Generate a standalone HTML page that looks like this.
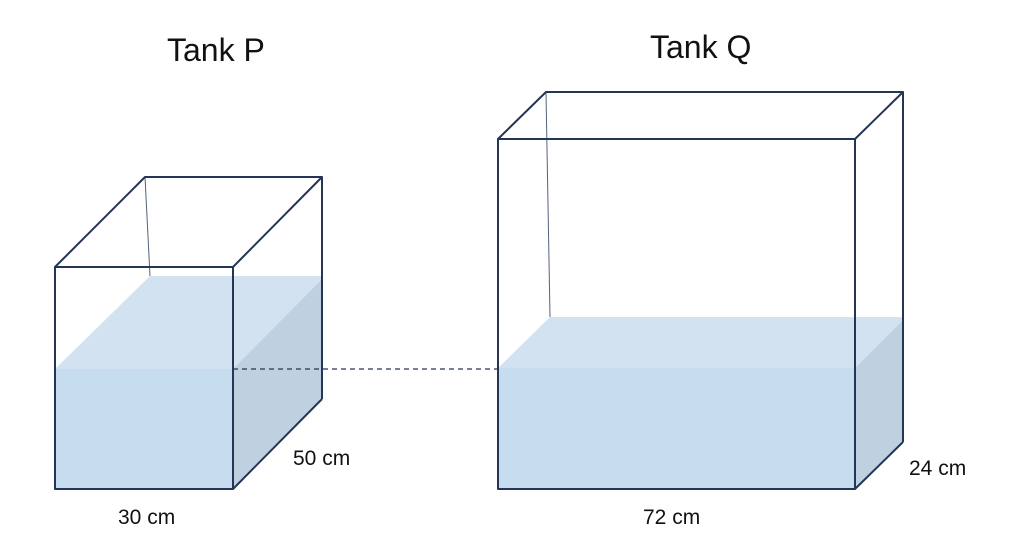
<!DOCTYPE html>
<html><head><meta charset="utf-8"><style>
html,body{margin:0;padding:0;background:#fff;}
svg{display:block;}
text{font-family:"Liberation Sans",Arial,sans-serif;fill:#111;}
</style></head><body>
<svg width="1024" height="546" viewBox="0 0 1024 546" xmlns="http://www.w3.org/2000/svg">
<rect width="1024" height="546" fill="#fff"/>
<!-- Tank P water -->
<polygon points="55,369 150,276 322,276 322,279 233,369" fill="#d2e2f1"/>
<polygon points="232,370 322,279 322,399 233,489" fill="#bfd1e0"/>
<rect x="55" y="369" width="178" height="120" fill="#c6dcef"/>
<!-- Tank P edges -->
<g fill="none" stroke="#243556" stroke-width="2" stroke-linejoin="round">
<line x1="145" y1="177" x2="150" y2="276" stroke-width="1" stroke="#55627c"/>
<polygon points="55,267 145,177 322,177 233,267"/>
<line x1="322" y1="177" x2="322" y2="399"/>
<line x1="322" y1="399" x2="233" y2="489"/>
<rect x="55" y="267" width="178" height="222"/>
</g>
<!-- dashed -->
<line x1="233" y1="369" x2="498" y2="369" stroke="#243556" stroke-width="1.3" stroke-dasharray="5,4"/>
<!-- Tank Q water -->
<polygon points="498,368 550,317 903,317 903,320 855,368" fill="#d2e2f1"/>
<polygon points="854,369 903,320 903,442 855,489" fill="#bfd1e0"/>
<rect x="498" y="368" width="357" height="121" fill="#c6dcef"/>
<g fill="none" stroke="#243556" stroke-width="2" stroke-linejoin="round">
<line x1="546" y1="92" x2="550" y2="317" stroke-width="1" stroke="#55627c"/>
<polygon points="498,139 546,92 903,92 855,139"/>
<line x1="903" y1="92" x2="903" y2="442"/>
<line x1="903" y1="442" x2="855" y2="489"/>
<rect x="498" y="139" width="357" height="350"/>
</g>
<text x="167" y="61" font-size="32">Tank P</text>
<text x="650" y="58" font-size="32">Tank Q</text>
<text x="118" y="524" font-size="21">30 cm</text>
<text x="293" y="465" font-size="21">50 cm</text>
<text x="643" y="524" font-size="21">72 cm</text>
<text x="909" y="475" font-size="21">24 cm</text>
</svg>
</body></html>
